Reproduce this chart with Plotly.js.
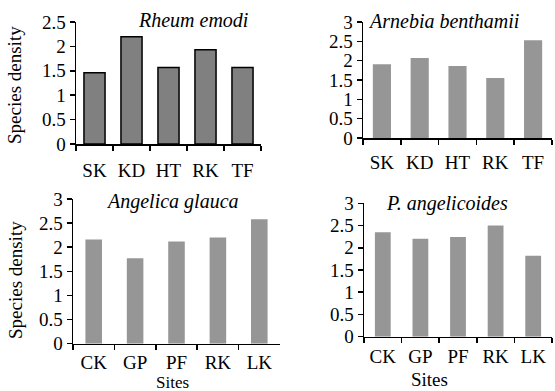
<!DOCTYPE html>
<html>
<head>
<meta charset="utf-8">
<script src="https://cdn.plot.ly/plotly-3.0.1.min.js"></script>
<style>html,body{margin:0;padding:0;background:#fff;}#chart{width:555px;height:391px;}</style>
</head>
<body>
<div id="chart"></div>
<script>
// ---- data ----
const sitesTop = ['SK', 'KD', 'HT', 'RK', 'TF'];
const sitesBottom = ['CK', 'GP', 'PF', 'RK', 'LK'];
const rheumEmodi = [1.46, 2.2, 1.57, 1.93, 1.57];
const arnebiaBenthamii = [1.91, 2.07, 1.86, 1.55, 2.53];
const angelicaGlauca = [2.16, 1.77, 2.12, 2.2, 2.58];
const pAngelicoides = [2.35, 2.2, 2.24, 2.5, 1.82];
const panelTitles = ['Rheum emodi', 'Arnebia benthamii', 'Angelica glauca', 'P. angelicoides'];
const yTitle = 'Species density';
const xTitle = 'Sites';

// ---- layout helpers ----
const W = 555, H = 391;
const px = v => v / W;
const py = v => 1 - v / H;
const FONT = 'Liberation Serif';
const FS = 19;
const FT = 20;

function xAxis(l, r, standoff) {
  return {
    domain: [px(l), px(r)], type: 'category', range: [-0.5, 4.5],
    showline: true, linecolor: '#000', linewidth: 1.5,
    ticks: 'outside', tickson: 'boundaries', ticklen: 5, tickwidth: 1.5, tickcolor: '#000',
    showgrid: false, zeroline: false, ticklabelstandoff: standoff,
    tickfont: {family: FONT, size: FS, color: '#000'}, fixedrange: true
  };
}
function yAxis(bottom, top, max) {
  return {
    domain: [py(bottom), py(top)], range: [0, max], dtick: 0.5, tick0: 0,
    showline: true, linecolor: '#000', linewidth: 1.5,
    ticks: 'outside', ticklen: 5, tickwidth: 1.5, tickcolor: '#000',
    showgrid: false, zeroline: false,
    tickfont: {family: FONT, size: FS, color: '#000'}, fixedrange: true
  };
}

const traces = [
  {type: 'bar', x: sitesTop, y: rheumEmodi, xaxis: 'x', yaxis: 'y', width: 0.57,
   marker: {color: '#808080', line: {color: '#000', width: 1.5}}},
  {type: 'bar', x: sitesTop, y: arnebiaBenthamii, xaxis: 'x2', yaxis: 'y2', width: 0.48,
   marker: {color: '#969696', line: {width: 0}}},
  {type: 'bar', x: sitesBottom, y: angelicaGlauca, xaxis: 'x3', yaxis: 'y3', width: 0.4,
   marker: {color: '#969696', line: {width: 0}}},
  {type: 'bar', x: sitesBottom, y: pAngelicoides, xaxis: 'x4', yaxis: 'y4', width: 0.42,
   marker: {color: '#969696', line: {width: 0}}}
];

function ann(text, x, y, size, opts) {
  return Object.assign({text: text, xref: 'paper', yref: 'paper', x: px(x), y: py(y),
    xanchor: 'center', yanchor: 'middle', showarrow: false,
    font: {family: FONT, size: size, color: '#000'}}, opts || {});
}

const layout = {
  width: W, height: H, margin: {l: 0, r: 0, t: 0, b: 0},
  font: {family: FONT, size: FS, color: '#000'},
  paper_bgcolor: '#fff', plot_bgcolor: 'rgba(0,0,0,0)', showlegend: false,
  xaxis: Object.assign(xAxis(76, 261, 9), {anchor: 'y'}),
  yaxis: Object.assign(yAxis(144, 22, 2.5), {anchor: 'x'}),
  xaxis2: Object.assign(xAxis(363, 552, 7), {anchor: 'y2'}),
  yaxis2: Object.assign(yAxis(138, 22, 3), {anchor: 'x2'}),
  xaxis3: Object.assign(xAxis(73, 280, 1), {anchor: 'y3'}),
  yaxis3: Object.assign(yAxis(343.7, 199, 3), {anchor: 'x3'}),
  xaxis4: Object.assign(xAxis(364, 552, 2), {anchor: 'y4'}),
  yaxis4: Object.assign(yAxis(336.7, 203.3, 3), {anchor: 'x4'}),
  annotations: [
    ann('<i>' + panelTitles[0] + '</i>', 193, 20, FT),
    ann('<i>' + panelTitles[1] + '</i>', 443, 21, FT),
    ann('<i>' + panelTitles[2] + '</i>', 172, 201, FT),
    ann('<i>' + panelTitles[3] + '</i>', 447, 203, FT),
    ann(yTitle, 15, 85, FS, {textangle: -90}),
    ann(yTitle, 15, 280, FS, {textangle: -90}),
    ann(xTitle, 172, 382, 17),
    ann(xTitle, 429, 379, FS)
  ]
};

Plotly.newPlot('chart', traces, layout, {staticPlot: true, displayModeBar: false});
</script>
</body>
</html>
